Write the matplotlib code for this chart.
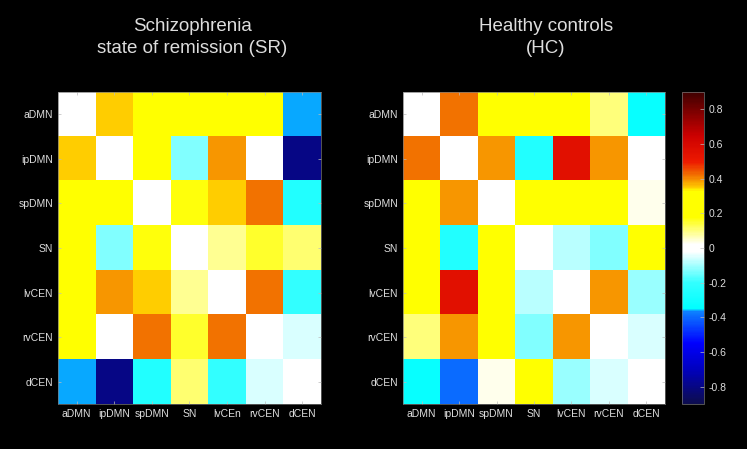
import numpy as np
import matplotlib
matplotlib.use("Agg")
import matplotlib.pyplot as plt
from matplotlib.colors import LinearSegmentedColormap

# ネットワーク名
networks = ["aDMN", "ipDMN", "spDMN", "SN", "lvCEN", "rvCEN", "dCEN"]
x_labels_sr = ["aDMN", "ipDMN", "spDMN", "SN", "lvCEn", "rvCEN", "dCEN"]
x_labels_hc = ["aDMN", "ipDMN", "spDMN", "SN", "lvCEN", "rvCEN", "dCEN"]

# 統合失調症 (寛解期) の結合値
sr_values = [
    [0.00, 0.35, 0.25, 0.25, 0.25, 0.25, -0.365],
    [0.35, 0.00, 0.25, -0.13, 0.39, 0.00, -0.80],
    [0.25, 0.25, 0.00, 0.17, 0.35, 0.42, -0.25],
    [0.25, -0.13, 0.17, 0.00, 0.09, 0.15, 0.11],
    [0.25, 0.39, 0.35, 0.09, 0.00, 0.42, -0.20],
    [0.25, 0.00, 0.42, 0.15, 0.42, 0.00, -0.05],
    [-0.365, -0.80, -0.25, 0.11, -0.20, -0.05, 0.00],
]

# 健常者の結合値
hc_values = [
    [0.00, 0.42, 0.20, 0.25, 0.25, 0.10, -0.33],
    [0.42, 0.00, 0.39, -0.25, 0.55, 0.39, 0.00],
    [0.20, 0.39, 0.00, 0.25, 0.25, 0.25, 0.03],
    [0.25, -0.25, 0.25, 0.00, -0.08, -0.13, 0.25],
    [0.25, 0.55, 0.25, -0.08, 0.00, 0.39, -0.11],
    [0.10, 0.39, 0.25, -0.13, 0.39, 0.00, -0.05],
    [-0.33, -0.40, 0.03, 0.25, -0.11, -0.05, 0.00],
]

titles = ["Schizophrenia\nstate of remission (SR)", "Healthy controls\n(HC)"]
cbar_ticks = [-0.8, -0.6, -0.4, -0.2, 0, 0.2, 0.4, 0.6, 0.8]

vmin, vmax = -0.9, 0.9

# カラーマップ (jet + 白)
nodes = [
    (-0.90, (0.05, 0.05, 0.30)),
    (-0.70, (0.00, 0.00, 0.75)),
    (-0.55, (0.00, 0.00, 1.00)),
    (-0.37, (0.05, 0.50, 1.00)),
    (-0.35, (0.00, 1.00, 1.00)),
    (-0.20, (0.20, 1.00, 1.00)),
    (-0.02, (1.00, 1.00, 1.00)),
    (0.02, (1.00, 1.00, 1.00)),
    (0.18, (1.00, 1.00, 0.00)),
    (0.33, (1.00, 1.00, 0.00)),
    (0.35, (1.00, 0.80, 0.00)),
    (0.42, (0.95, 0.45, 0.00)),
    (0.50, (0.93, 0.10, 0.00)),
    (0.65, (0.80, 0.00, 0.00)),
    (0.90, (0.25, 0.00, 0.00)),
]
cmap = LinearSegmentedColormap.from_list(
    "jetwhite", [((v - vmin) / (vmax - vmin), c) for v, c in nodes], N=256)

plt.rcParams["font.family"] = ["Liberation Sans", "DejaVu Sans"]
plt.rcParams["axes.unicode_minus"] = False

fig = plt.figure(figsize=(7.47, 4.49), dpi=100, facecolor="black")
text_color = "#dddddd"

positions = [[0.0776, 0.1002, 0.352, 0.695], [0.5395, 0.1002, 0.3507, 0.695]]
title_x = [0.51, 0.546]
data_list = [np.array(sr_values), np.array(hc_values)]
xlabel_list = [x_labels_sr, x_labels_hc]

for pos, data, title, xl, tx in zip(positions, data_list, titles, xlabel_list, title_x):
    ax = fig.add_axes(pos)
    ax.set_facecolor("black")
    im = ax.imshow(data, cmap=cmap, vmin=vmin, vmax=vmax, aspect="auto",
                   interpolation="nearest")
    ax.set_xticks(range(len(networks)))
    ax.set_yticks(range(len(networks)))
    ax.set_xticklabels(xl)
    ax.set_yticklabels(networks)
    ax.tick_params(colors="#bbbbbb", labelcolor=text_color, labelsize=7.5,
                   direction="in", length=2, width=0.5,
                   top=True, right=True)
    for s in ax.spines.values():
        s.set_color("#777777")
        s.set_linewidth(0.5)
    ax.set_title(title, color=text_color, fontsize=13.5, pad=28, x=tx,
                 linespacing=1.42)

# カラーバー
cax = fig.add_axes([0.913, 0.1002, 0.0295, 0.695])
cb = fig.colorbar(im, cax=cax, ticks=cbar_ticks)
cb.ax.set_yticklabels(["%g" % t for t in cbar_ticks])
cb.ax.tick_params(colors="#bbbbbb", labelcolor=text_color, labelsize=7.5,
                  direction="in", length=3, width=0.5)
cb.outline.set_edgecolor("#777777")
cb.outline.set_linewidth(0.5)

fig.savefig("out.png", dpi=100, facecolor="black")
